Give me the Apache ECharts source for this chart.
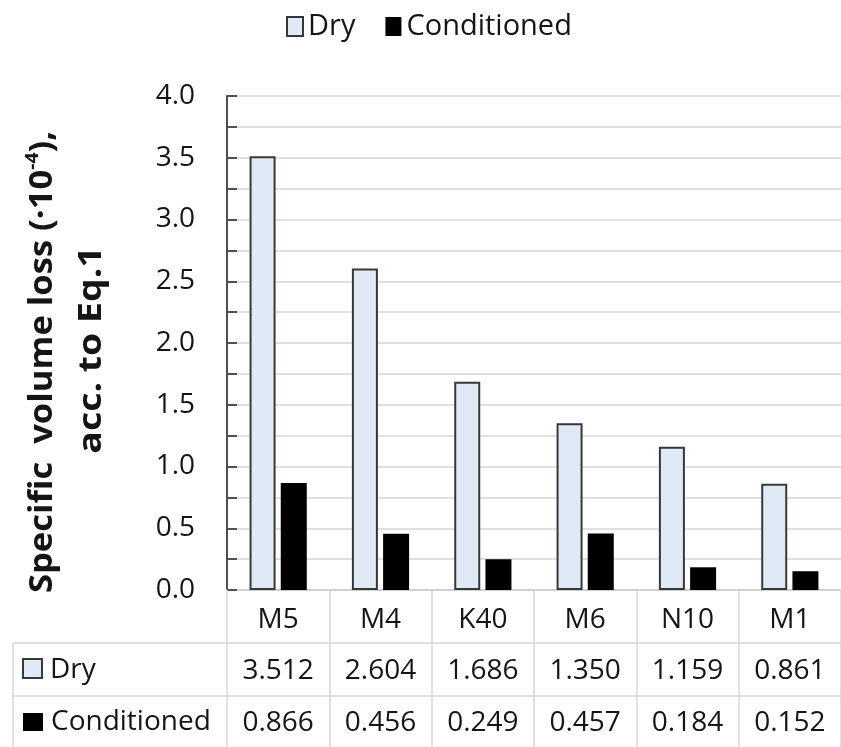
<!DOCTYPE html>
<html>
<head>
<meta charset="utf-8">
<script src="https://cdn.jsdelivr.net/npm/echarts@6/dist/echarts.min.js"></script>
<style>
  html, body { margin: 0; padding: 0; background: #fff; }
  #chart { width: 841px; height: 747px; }
</style>
</head>
<body>
<div id="chart"></div>
<script>
// Specimen labels along the x axis
const categories = ['M5', 'M4', 'K40', 'M6', 'N10', 'M1'];
// Specific volume loss (·10^-4), dry specimens
const dryValues = [3.512, 2.604, 1.686, 1.350, 1.159, 0.861];
// Specific volume loss (·10^-4), conditioned specimens
const conditionedValues = [0.866, 0.456, 0.249, 0.457, 0.184, 0.152];
// Value axis range and tick step (labels every second tick)
const yMin = 0, yMax = 4, yStep = 0.25, yLabelStep = 0.5;

const FONT = 'Open Sans';
const TEXT = '#151515';
const TABLE_LINE = '#d6d6d6';
const DRY_FILL = '#e0eaf6';
const DRY_BORDER = '#383838';

const chart = echarts.init(document.getElementById('chart'), null, { renderer: 'canvas' });

const tableRowAxis = (values, offset, margin) => ({
  type: 'category',
  gridIndex: 0,
  position: 'bottom',
  offset: offset,
  data: values.map(v => v.toFixed(3)),
  axisLine: { show: false },
  axisTick: { show: false },
  axisLabel: { fontFamily: FONT, fontSize: 28, color: TEXT, margin: margin, interval: 0 },
  splitLine: { show: false }
});

const option = {
  backgroundColor: '#fff',
  animation: false,
  legend: {
    data: ['Dry', 'Conditioned'],
    icon: 'rect',
    left: 281,
    top: 7,
    itemWidth: 16,
    itemHeight: 19,
    itemGap: 30,
    textStyle: { fontFamily: FONT, fontSize: 29, color: TEXT }
  },
  grid: { left: 227, top: 96, width: 620, height: 494, containLabel: false },
  xAxis: [
    {
      type: 'category',
      data: categories,
      axisLine: { show: true, lineStyle: { color: '#d0d0d0', width: 2 } },
      axisTick: { show: true, length: 160, interval: 0, lineStyle: { color: TABLE_LINE, width: 1.5 } },
      axisLabel: { fontFamily: FONT, fontSize: 28, color: TEXT, margin: 16, interval: 0 },
      splitLine: { show: false }
    },
    tableRowAxis(dryValues, 53, 14),
    tableRowAxis(conditionedValues, 106, 13)
  ],
  yAxis: {
    type: 'value',
    min: yMin,
    max: yMax,
    interval: yStep,
    axisLine: { show: true, lineStyle: { color: '#505050', width: 2 } },
    axisTick: { show: true, inside: true, length: 10, lineStyle: { color: '#505050', width: 2 } },
    axisLabel: {
      fontFamily: FONT, fontSize: 28, color: TEXT, margin: 32,
      formatter: v => (Math.abs(v / yLabelStep - Math.round(v / yLabelStep)) < 1e-6 ? v.toFixed(1) : '')
    },
    splitLine: { show: true, lineStyle: { color: '#e0e0e0', width: 2 } }
  },
  series: [
    {
      name: 'Dry',
      type: 'bar',
      data: dryValues,
      barWidth: 26,
      barGap: '20%',
      itemStyle: { color: DRY_FILL, borderColor: DRY_BORDER, borderWidth: 2 }
    },
    {
      name: 'Conditioned',
      type: 'bar',
      data: conditionedValues,
      barWidth: 26,
      itemStyle: { color: '#000' }
    }
  ],
  graphic: [
    // value-axis title, two rotated lines (stretched along their length)
    {
      type: 'text',
      x: 43, y: 362,
      rotation: Math.PI / 2,
      scaleX: 1.08,
      style: {
        text: '{a|Specific  volume loss (·10}{s|-4}{a|),}',
        align: 'center',
        verticalAlign: 'middle',
        rich: {
          a: { fontFamily: FONT, fontSize: 32, fontWeight: 'bold', fill: TEXT, lineHeight: 38 },
          s: { fontFamily: FONT, fontSize: 18, fontWeight: 'bold', fill: TEXT, verticalAlign: 'top', lineHeight: 38 }
        }
      }
    },
    {
      type: 'text',
      x: 92, y: 350,
      rotation: Math.PI / 2,
      scaleX: 1.17,
      style: {
        text: 'acc. to Eq.1',
        font: 'bold 32px "' + FONT + '"',
        fill: TEXT,
        align: 'center',
        verticalAlign: 'middle'
      }
    },
    // data table ruling
    { type: 'line', shape: { x1: 13, y1: 643, x2: 841, y2: 643 }, style: { stroke: TABLE_LINE, lineWidth: 1.5 } },
    { type: 'line', shape: { x1: 13, y1: 696, x2: 841, y2: 696 }, style: { stroke: TABLE_LINE, lineWidth: 1.5 } },
    { type: 'line', shape: { x1: 13, y1: 643, x2: 13, y2: 747 }, style: { stroke: TABLE_LINE, lineWidth: 1.5 } },
    // row keys
    { type: 'rect', shape: { x: 23, y: 659, width: 19, height: 19 }, style: { fill: DRY_FILL, stroke: DRY_BORDER, lineWidth: 2 } },
    { type: 'text', x: 50, y: 670, style: { text: 'Dry', font: '28px "' + FONT + '"', fill: TEXT, verticalAlign: 'middle' } },
    { type: 'rect', shape: { x: 23, y: 713, width: 20, height: 18 }, style: { fill: '#000' } },
    { type: 'text', x: 51, y: 722, style: { text: 'Conditioned', font: '28px "' + FONT + '"', fill: TEXT, verticalAlign: 'middle' } }
  ]
};

chart.setOption(option);
</script>
</body>
</html>
